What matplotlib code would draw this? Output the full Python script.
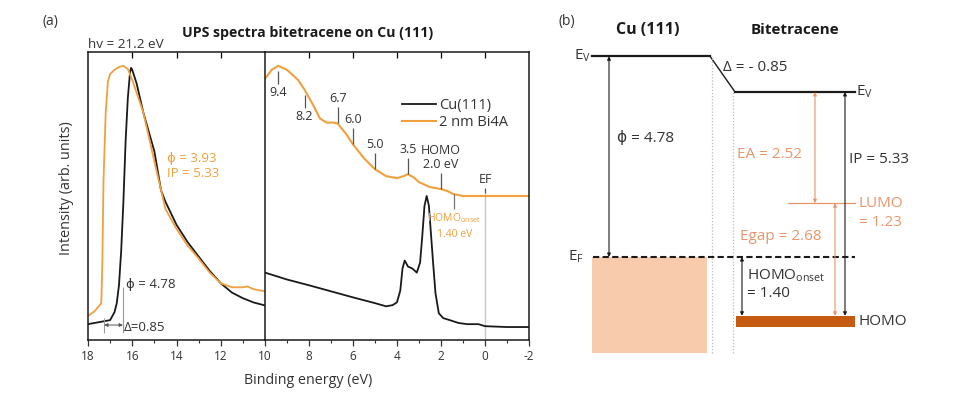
import numpy as np
import matplotlib
matplotlib.use('Agg')
import matplotlib.pyplot as plt

plt.rcParams['font.family'] = ['Open Sans', 'DejaVu Sans']
plt.rcParams['mathtext.default'] = 'regular'
plt.rcParams['axes.unicode_minus'] = False

# ---------------- data ----------------
hv = 21.2
phi_cu = 4.78
phi_bt = 3.93
delta = 0.85
ip_bt = 5.33
ea_bt = 2.52
egap_bt = 2.68
homo_onset = 1.40
lumo_label = 1.23

# secondary electron cutoff region (binding energy, intensity a.u.)
sec_cu_be = [18.0, 17.5, 17.0, 16.8, 16.7, 16.6, 16.5, 16.4, 16.3, 16.2, 16.1, 16.05, 16.0,
             15.8, 15.5, 15.0, 14.7, 14.5, 14.0, 13.5, 13.0, 12.5, 12.0, 11.5, 11.0, 10.5, 10.0]
sec_cu = [5.5, 6.2, 6.9, 9.7, 12.8, 19.0, 31.0, 48.0, 69.0, 84.0, 93.0, 94.5, 93.8,
          89.0, 79.0, 65.5, 52.0, 48.0, 40.0, 34.0, 29.0, 24.0, 19.7, 16.5, 14.5, 13.0, 12.0]

sec_bt_be = [18.0, 17.7, 17.4, 17.35, 17.3, 17.2, 17.1, 17.0, 16.8, 16.6, 16.4, 16.2, 16.0,
             15.5, 15.0, 14.5, 14.0, 13.5, 13.0, 12.5, 12.0, 11.5, 11.0, 10.8, 10.5, 10.0]
sec_bt = [8.3, 10.0, 12.8, 27.6, 55.0, 79.0, 89.7, 92.4, 93.8, 94.8, 95.2, 94.1, 90.3,
          79.0, 62.0, 45.5, 38.6, 32.8, 28.3, 23.4, 19.7, 18.3, 18.3, 18.6, 17.6, 16.9]

# valence band region
val_cu_be = [10.0, 9.0, 8.0, 7.0, 6.0, 5.0, 4.5, 4.2, 4.0, 3.85, 3.75, 3.65, 3.5, 3.3, 3.1,
             2.95, 2.85, 2.75, 2.65, 2.55, 2.45, 2.35, 2.25, 2.1, 1.9, 1.6, 1.2, 0.8, 0.3,
             0.0, -1.0, -2.0]
val_cu = [23.4, 21.0, 19.0, 16.9, 14.8, 12.8, 11.7, 12.1, 13.1, 17.2, 24.8, 27.6, 25.5, 24.8, 23.4,
          26.9, 36.2, 46.6, 50.0, 46.6, 36.2, 25.9, 16.2, 9.3, 7.6, 6.9, 5.9, 5.5, 5.5,
          4.8, 4.5, 4.5]

val_bt_be = [10.0, 9.7, 9.4, 9.0, 8.5, 8.2, 7.8, 7.5, 7.2, 6.9, 6.7, 6.3, 6.0, 5.5, 5.0, 4.5,
             4.0, 3.7, 3.5, 3.2, 3.0, 2.5, 2.0, 1.7, 1.45, 1.0, 0.0, -2.0]
val_bt = [90.7, 93.8, 95.2, 93.8, 90.3, 86.9, 81.4, 76.9, 75.5, 75.5, 75.2, 71.4, 67.9, 63.1,
          59.3, 56.9, 56.2, 56.9, 57.6, 56.2, 54.8, 53.1, 52.4, 51.7, 50.7, 50.0, 50.0, 50.0]

peak_pos = [9.4, 8.2, 6.7, 6.0, 5.0, 3.5, 2.0]
peak_text = ['9.4', '8.2', '6.7', '6.0', '5.0', '3.5', 'HOMO\n2.0 eV']
peak_side = ['below', 'below', 'above', 'above', 'above', 'above', 'above']

left_ticks = [18, 16, 14, 12, 10]
right_ticks = [8, 6, 4, 2, 0, -2]

# ---------------- style ----------------
BLACK = '#1a1a1a'
ORANGE = '#F0A03C'
ORANGE_B = '#E9956A'
CU_FILL = '#F8CBAD'
HOMO_FILL = '#C55A11'
GREY = '#c8c8c8'
TC = '#333333'

W, H = 957, 396
fig = plt.figure(figsize=(W / 100, H / 100), dpi=100)

ax_bottom = 1 - 340 / H
ax_h = 288 / H
axL = fig.add_axes([88 / W, ax_bottom, 177 / W, ax_h])
axR = fig.add_axes([265 / W, ax_bottom, 264 / W, ax_h])

axL.plot(sec_cu_be, sec_cu, color=BLACK, lw=1.3)
axL.plot(sec_bt_be, sec_bt, color=ORANGE, lw=1.3)
axR.plot(val_cu_be, val_cu, color=BLACK, lw=1.3, label='Cu(111)')
axR.plot(val_bt_be, val_bt, color=ORANGE, lw=1.5, label='2 nm Bi4A')

axL.set_xlim(18, 10)
axR.set_xlim(10, -2)
for ax in (axL, axR):
    ax.set_ylim(0, 100)
    ax.set_yticks([])
    for s in ax.spines.values():
        s.set_linewidth(1.1)
        s.set_color(BLACK)
    ax.tick_params(axis='x', which='both', direction='out', labelsize=8.5, colors=TC)
    ax.tick_params(axis='x', which='major', length=4, width=0.9)
    ax.tick_params(axis='x', which='minor', length=2.5, width=0.8)
axL.spines['right'].set_visible(False)

axL.set_xticks(left_ticks)
axL.set_xticks([17, 15, 13, 11], minor=True)
axR.set_xticks(right_ticks)
axR.set_xticks([9, 7, 5, 3, 1, -1], minor=True)

# top inward ticks
for ax, tks in ((axL, left_ticks[1:-1]), (axR, right_ticks[:-1])):
    sec = ax.secondary_xaxis('top')
    sec.set_xticks(tks)
    sec.tick_params(direction='in', length=4, width=0.9, labeltop=False)
    sec.spines['top'].set_visible(False)

# left panel annotations
cut_bt = hv - phi_bt
cut_cu = hv - phi_cu
axL.vlines(cut_bt, 2.4, 7.6, color='#9a9a9a', lw=0.8)
axL.vlines(cut_cu, 2.4, 18.3, color='#9a9a9a', lw=0.8)
axL.annotate('', xy=(cut_cu, 5.2), xytext=(cut_bt, 5.2),
             arrowprops=dict(arrowstyle='<|-|>', color='#555555', lw=0.7,
                             mutation_scale=5, shrinkA=0, shrinkB=0))
axL.text(cut_cu - 0.02, 4.3, '\u0394=0.85', fontsize=9.5, color=TC, ha='left', va='center')
axL.text(cut_cu - 0.12, 19.4, f'\u03d5 = {phi_cu:.2f}', fontsize=9.5, color=TC,
         ha='left', va='center')
axL.text(14.45, 60.5, f'\u03d5 = {phi_bt:.2f}\nIP = {ip_bt:.2f}', fontsize=9.5, color=ORANGE,
         ha='left', va='center', linespacing=1.2)

# right panel peak markers
px = 100 / 288.0
for pos, txt, side in zip(peak_pos, peak_text, peak_side):
    yc = np.interp(pos, val_bt_be[::-1], val_bt[::-1])
    if side == 'below':
        y1, y2 = yc - 5 * px, yc - 18 * px
        axR.vlines(pos, y2, y1, color='#555555', lw=0.9)
        axR.text(pos, y2 - 2 * px, txt, fontsize=9, color=TC, ha='center', va='top')
    else:
        y1, y2 = yc, yc + 16 * px
        axR.vlines(pos, y1, y2, color='#555555', lw=0.9)
        axR.text(pos, y2 + 2 * px, txt, fontsize=9, color=TC, ha='center',
                 va='bottom', linespacing=1.15, multialignment='center')

# EF marker
y_ef = np.interp(0, val_bt_be[::-1], val_bt[::-1])
axR.vlines(0, 0, y_ef + 3 * px, color=GREY, lw=1.0, zorder=0)
axR.vlines(0, y_ef + 3 * px, y_ef + 8 * px, color='#555555', lw=0.9)
axR.text(0, y_ef + 10 * px, 'EF', fontsize=9, color=TC, ha='center', va='bottom')

# HOMO onset marker
y_on = np.interp(homo_onset, val_bt_be[::-1], val_bt[::-1])
axR.vlines(homo_onset, y_on - 15 * px, y_on, color='#777777', lw=0.9)
axR.text(homo_onset, y_on - 17 * px, 'HOMO$_{onset}$\n1.40 eV', fontsize=7.5, color=ORANGE,
         ha='center', va='top', linespacing=1.5, multialignment='center')

leg = axR.legend(loc='upper left', bbox_to_anchor=(0.47, 0.885), frameon=False, fontsize=10.5,
                 handlelength=2.3, handletextpad=0.2, labelspacing=0.15)
for t in leg.get_texts():
    t.set_color(TC)

# figure texts for panel (a)
fig.text(50 / W, 1 - 22 / H, '(a)', fontsize=10, ha='center', va='center', color=TC)
fig.text(308 / W, 1 - 33 / H, 'UPS spectra bitetracene on Cu (111)', fontsize=10.2,
         fontweight='bold', ha='center', va='center', color=BLACK)
fig.text(88 / W, 1 - 44 / H, 'hv = 21.2 eV', fontsize=9.7, ha='left', va='center', color=TC)
fig.text(308 / W, 1 - 381 / H, 'Binding energy (eV)', fontsize=10.3, ha='center', va='center',
         color=TC)
fig.text(66 / W, 1 - 188 / H, 'Intensity (arb. units)', fontsize=10.4, ha='center', va='center',
         rotation=90, color=TC)

# ---------------- panel (b): energy level diagram ----------------
axB = fig.add_axes([560 / W, 0, 397 / W, 1])
axB.set_xlim(560, 957)
axB.set_ylim((257 - 396) / 42.0, 257 / 42.0)
axB.axis('off')

ev_cu = phi_cu
ev_bt = phi_cu - delta
homo = ev_bt - ip_bt
lumo = homo + egap_bt
homo_bot = homo - 0.27
box_bot = -2.29

# Cu metal states
axB.fill_between([592, 707], box_bot, 0, color=CU_FILL, lw=0)
# HOMO bar
axB.fill_between([736, 855], homo_bot, homo, color=HOMO_FILL, lw=0)
# vacuum levels
axB.plot([592, 710], [ev_cu, ev_cu], color=BLACK, lw=1.6)
axB.plot([710, 735], [ev_cu, ev_bt], color=BLACK, lw=1.0)
axB.plot([735, 855], [ev_bt, ev_bt], color=BLACK, lw=1.6)
# interface dotted lines
axB.plot([712, 712], [box_bot, ev_cu], color='#bbbbbb', lw=0.9, ls=(0, (1, 1.5)))
axB.plot([733, 733], [box_bot, ev_bt], color='#bbbbbb', lw=0.9, ls=(0, (1, 1.5)))
# Fermi level
axB.plot([593, 855], [0, 0], color=BLACK, lw=1.5, ls=(0, (3, 1.6)))
# LUMO line
axB.plot([788, 855], [lumo, lumo], color=ORANGE_B, lw=0.9)


def darrow(x, y1, y2, color, lw=0.8):
    axB.annotate('', xy=(x, y2), xytext=(x, y1),
                 arrowprops=dict(arrowstyle='<|-|>', color=color, lw=lw, mutation_scale=5,
                                 shrinkA=0, shrinkB=0))


darrow(609, ev_cu, 0, BLACK)
darrow(815, ev_bt, lumo, ORANGE_B)
darrow(835, lumo, homo, ORANGE_B)
darrow(845, ev_bt, homo, BLACK)
darrow(742, 0, homo, BLACK)

fs = 11
axB.text(574, ev_cu, 'E$_V$', fontsize=fs, ha='left', va='center', color=TC)
axB.text(856, ev_bt, 'E$_V$', fontsize=fs, ha='left', va='center', color=TC)
axB.text(568, 0, 'E$_F$', fontsize=fs, ha='left', va='center', color=TC)
axB.text(723, 4.52, f'\u0394 = - {delta:.2f}', fontsize=fs, ha='left', va='center', color=TC)
axB.text(617, 2.83, f'\u03d5 = {phi_cu:.2f}', fontsize=fs, ha='left', va='center', color=TC)
axB.text(737, 2.43, f'EA = {ea_bt:.2f}', fontsize=fs, ha='left', va='center', color=ORANGE_B)
axB.text(849, 2.31, f'IP = {ip_bt:.2f}', fontsize=fs, ha='left', va='center', color=TC)
axB.text(858, lumo, 'LUMO', fontsize=fs, ha='left', va='center', color=ORANGE_B)
axB.text(859, 0.83, f'= {lumo_label:.2f}', fontsize=fs, ha='left', va='center',
         color=ORANGE_B)
axB.text(740, 0.48, f'Egap = {egap_bt:.2f}', fontsize=fs, ha='left', va='center', color=ORANGE_B)
axB.text(747, -0.45, 'HOMO$_{onset}$', fontsize=fs, ha='left', va='center', color=TC)
axB.text(747, -0.86, f'= {homo_onset:.2f}', fontsize=fs, ha='left', va='center', color=TC)
axB.text(858, (homo + homo_bot) / 2, 'HOMO', fontsize=fs, ha='left', va='center', color=TC)

fig.text(567 / W, 1 - 22 / H, '(b)', fontsize=10, ha='center', va='center', color=TC)
fig.text(648 / W, 1 - 30 / H, 'Cu (111)', fontsize=11.5, fontweight='bold', ha='center',
         va='center', color=BLACK)
fig.text(795 / W, 1 - 30 / H, 'Bitetracene', fontsize=11, fontweight='bold', ha='center',
         va='center', color=BLACK)

fig.savefig('out.png', dpi=100)
